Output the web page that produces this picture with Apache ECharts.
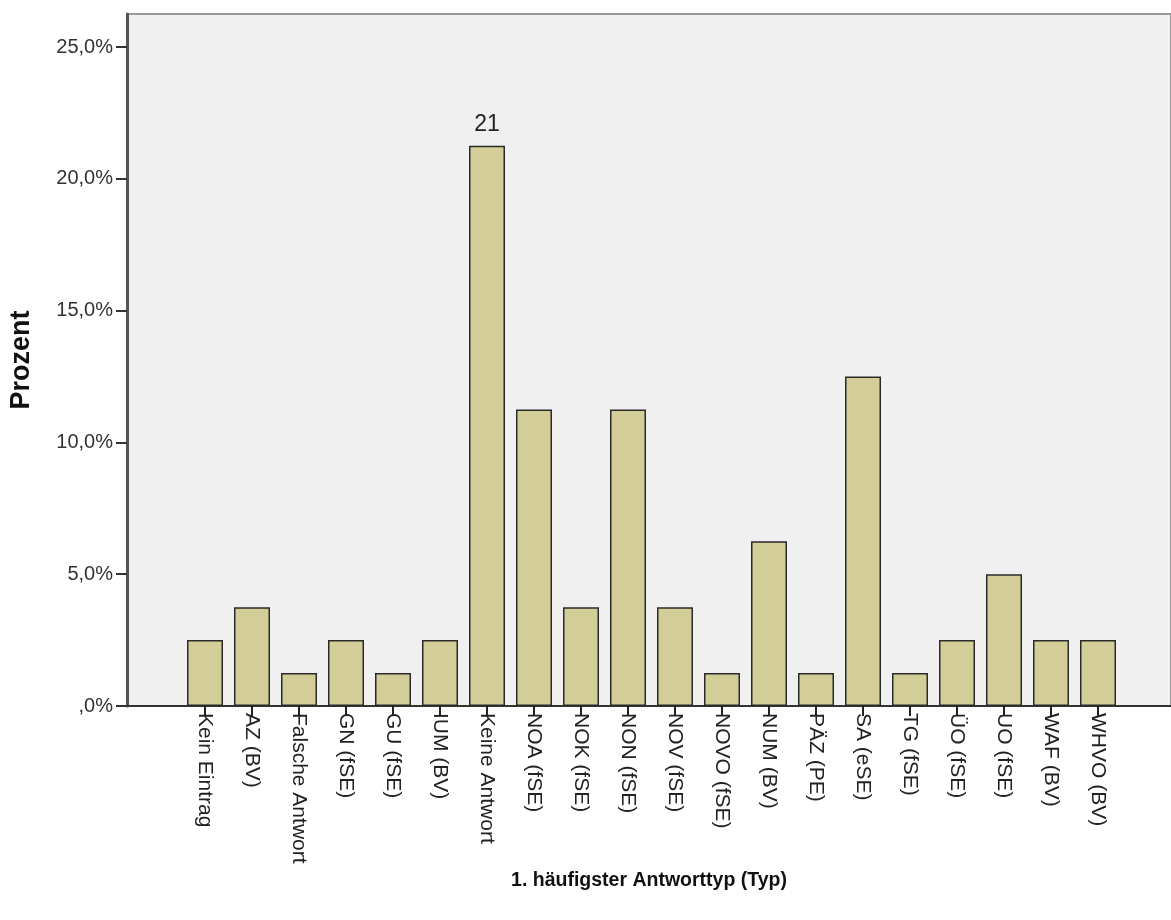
<!DOCTYPE html>
<html>
<head>
<meta charset="utf-8">
<script src="https://cdn.jsdelivr.net/npm/echarts@6/dist/echarts.min.js"></script>
<style>html,body{margin:0;padding:0;background:#fff}#c{width:1171px;height:920px}</style>
</head>
<body>
<div id="c"></div>
<script>
const categories = ['Kein Eintrag','AZ (BV)','Falsche Antwort','GN (fSE)','GU (fSE)','IUM (BV)','Keine Antwort','NOA (fSE)','NOK (fSE)','NON (fSE)','NOV (fSE)','NOVO (fSE)','NUM (BV)','PÄZ (PE)','SA (eSE)','TG (fSE)','ÜO (fSE)','UO (fSE)','WAF (BV)','WHVO (BV)'];
const percents = [2.5,3.75,1.25,2.5,1.25,2.5,21.25,11.25,3.75,11.25,3.75,1.25,6.25,1.25,12.5,1.25,2.5,5.0,2.5,2.5];
const labeledIndex = 6;
const labeledText = '21';
const yTicks = [0,5,10,15,20,25];

const chart = echarts.init(document.getElementById('c'), null, {renderer:'canvas'});
const font = '"Liberation Sans", Arial, sans-serif';
const barData = percents.map((v,i)=> i===labeledIndex ? {value:v,label:{show:true,position:'top',distance:10,formatter:labeledText,fontSize:23,color:'#222',fontFamily:font}} : v);

chart.setOption({
  animation:false,
  grid:[
    {left:127,right:-5,top:14,bottom:214,show:true,backgroundColor:'#f0f0f0',borderColor:'#9a9a9a',borderWidth:2},
    {left:127,right:0,top:47,bottom:214},
    {left:181.5,right:49.5,top:47,bottom:214}
  ],
  xAxis:[
    {gridIndex:0,type:'value',min:0,max:1,axisLine:{show:true,onZero:false,lineStyle:{color:'#333',width:2}},axisTick:{show:false},axisLabel:{show:false},splitLine:{show:false},
     name:'1. häufigster Antworttyp (Typ)',nameLocation:'middle',nameGap:165,nameTextStyle:{fontSize:19.5,fontWeight:'bold',color:'#111',fontFamily:font}},
    {gridIndex:1,type:'value',min:0,max:1,show:false},
    {gridIndex:2,type:'category',data:categories,boundaryGap:true,
     axisLine:{show:false},
     axisTick:{show:true,alignWithLabel:true,length:10,lineStyle:{color:'#222',width:2}},
     axisLabel:{rotate:-90,interval:0,margin:7,fontSize:21,color:'#222',fontFamily:font},
     splitLine:{show:false}}
  ],
  yAxis:[
    {gridIndex:0,type:'value',min:0,max:1,axisLine:{show:true,onZero:false,lineStyle:{color:'#555',width:3}},axisTick:{show:false},axisLabel:{show:false},splitLine:{show:false},
     name:'Prozent',nameLocation:'middle',nameGap:92,nameRotate:90,nameTextStyle:{fontSize:27,fontWeight:'bold',color:'#111',fontFamily:font}},
    {gridIndex:1,type:'value',min:0,max:25,interval:5,axisLine:{show:false},
     axisTick:{show:true,length:11,lineStyle:{color:'#333',width:2}},
     axisLabel:{margin:14,fontSize:20,color:'#333',fontFamily:font,formatter:v=> v===0 ? ',0%' : v.toFixed(1).replace('.',',')+'%'},
     splitLine:{show:false}},
    {gridIndex:2,type:'value',min:0,max:25,show:false}
  ],
  series:[{
    type:'bar',xAxisIndex:2,yAxisIndex:2,data:barData,barWidth:36,
    itemStyle:{color:'#d3ce97',borderColor:'#2a2a2a',borderWidth:1.5}
  }]
});
</script>
</body>
</html>
